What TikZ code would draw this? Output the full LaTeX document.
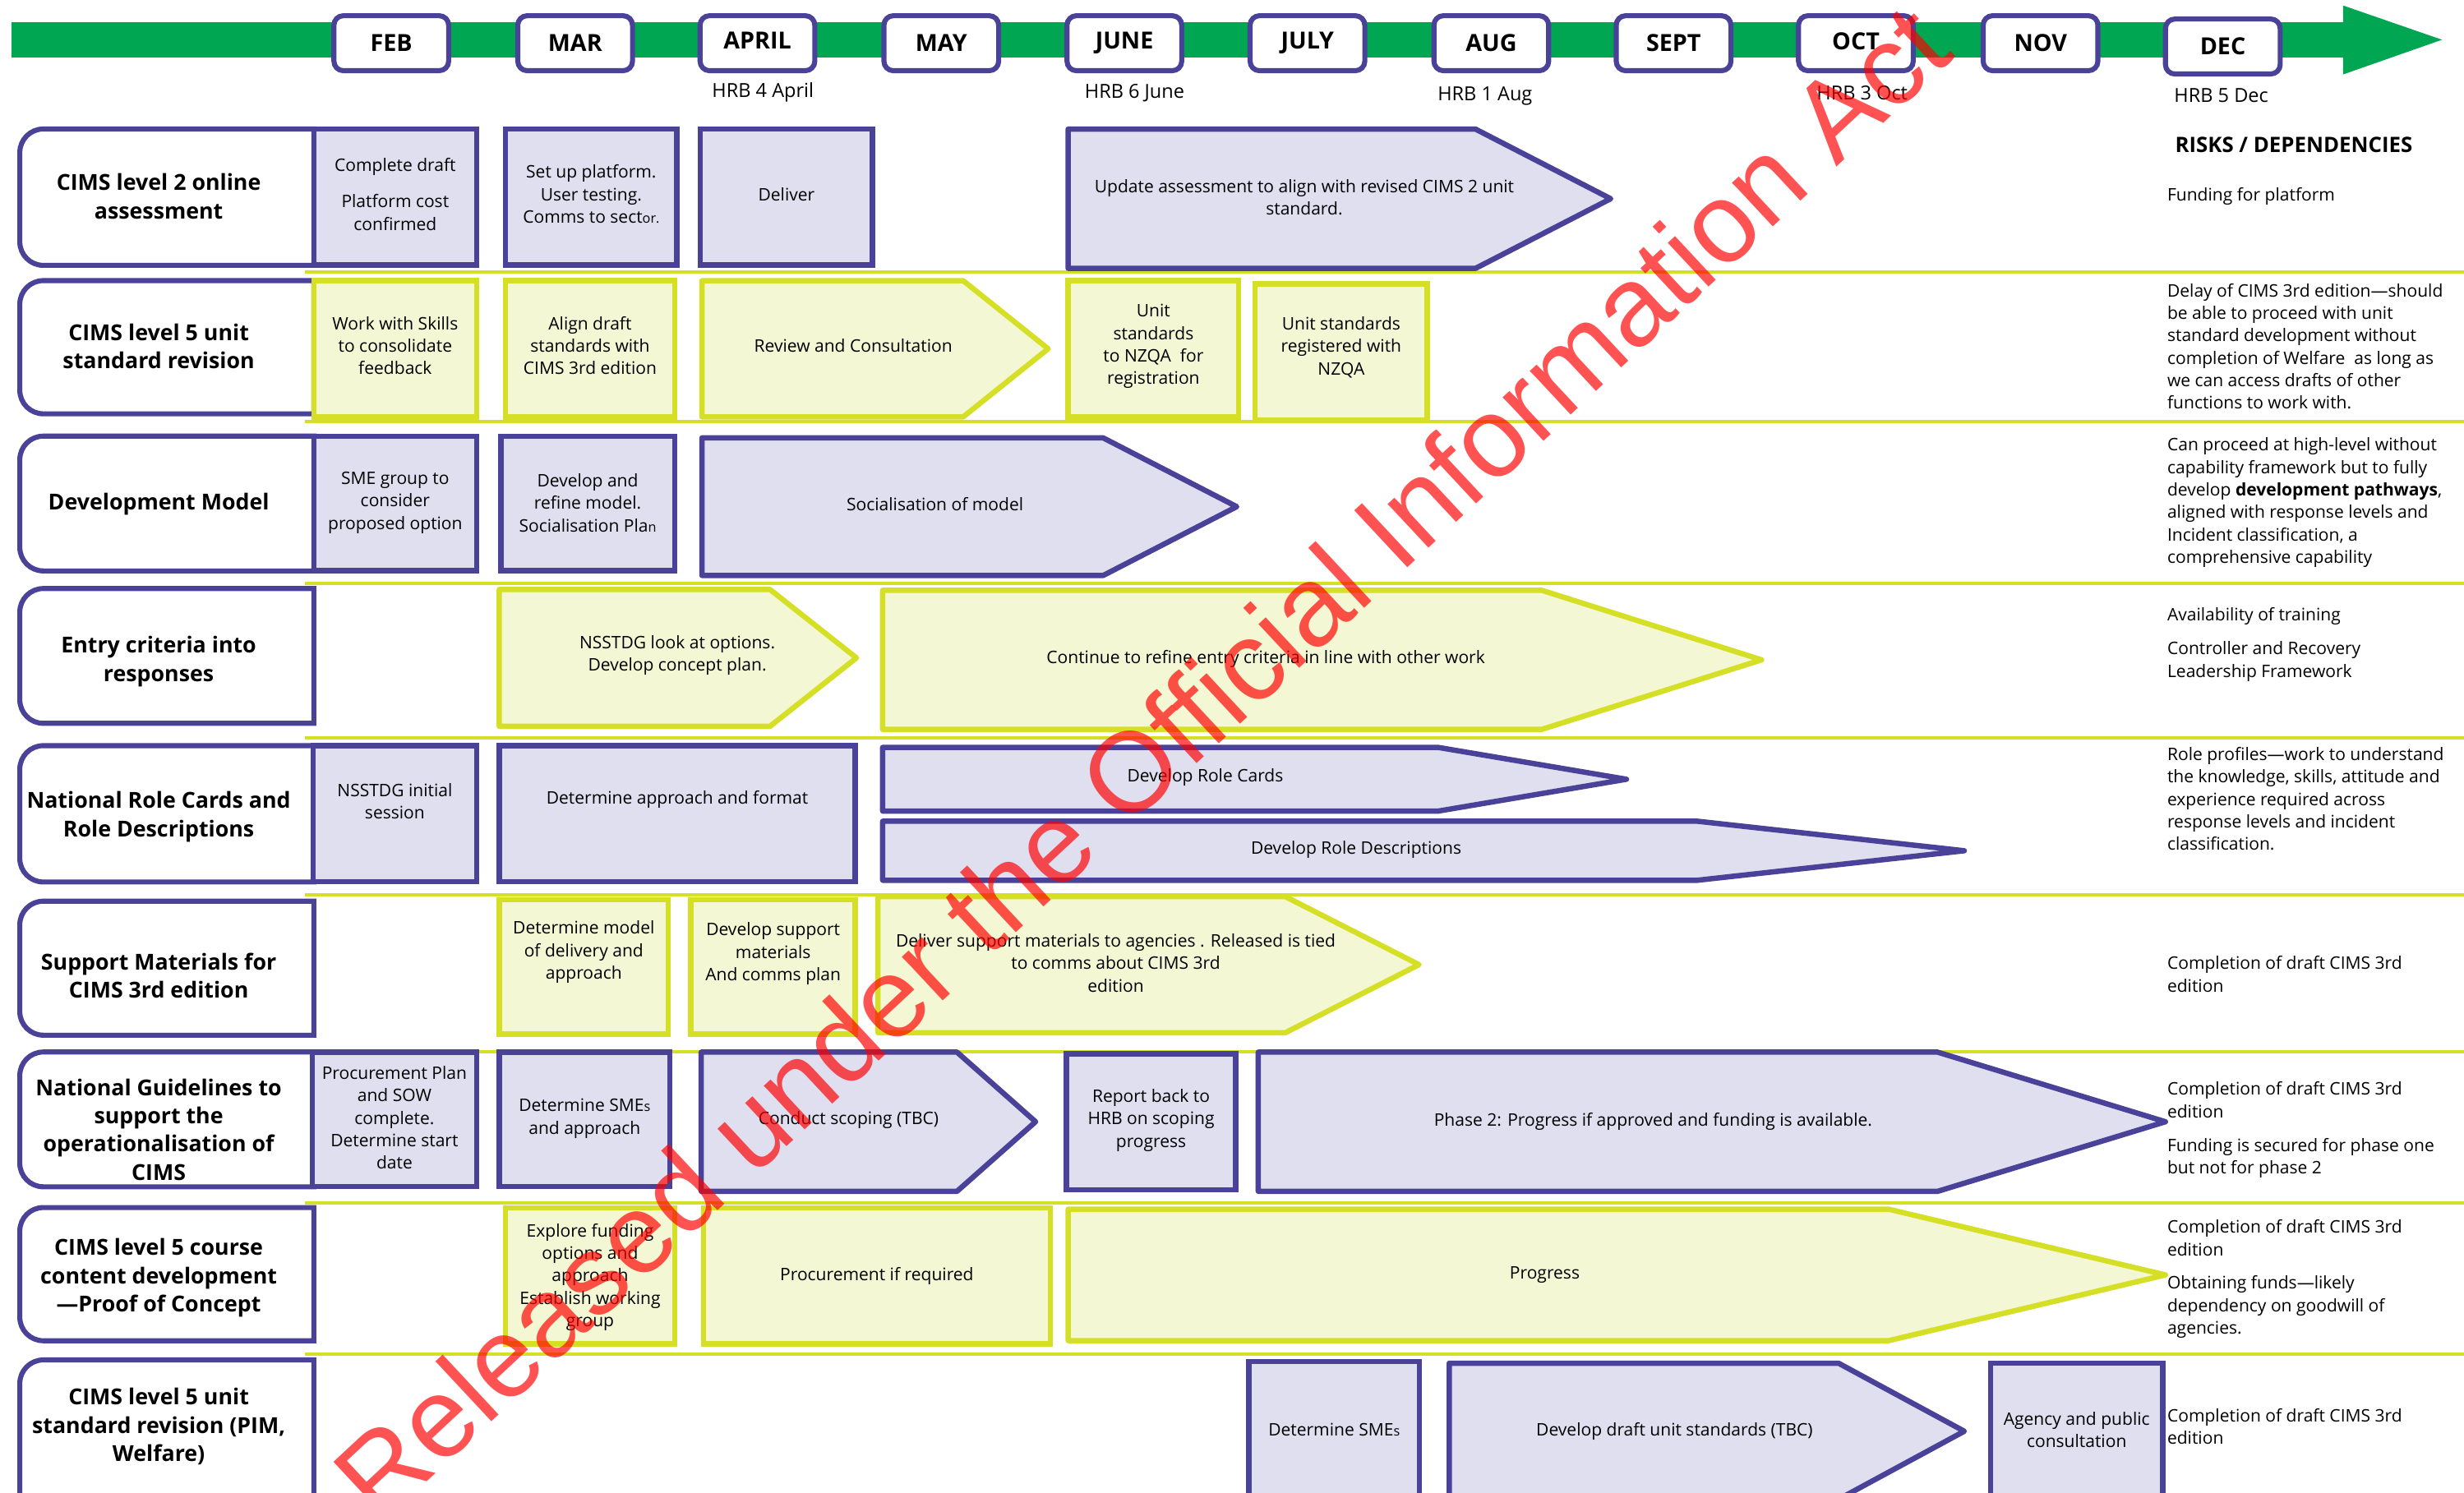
\documentclass[tikz,border=0pt]{standalone}
\usepackage{fontspec}
\setmainfont{Open Sans}
\newfontfamily\stampfont{Liberation Sans}

\definecolor{pborder}{HTML}{4A4298}
\definecolor{pfill}{HTML}{DFDFF0}
\definecolor{yborder}{HTML}{D5DF26}
\definecolor{yfill}{HTML}{F4F7D3}
\definecolor{tlgreen}{HTML}{00A651}

% rectangular task: style, name, x1, y1, x2, y2, text y, text
\newcommand\TaskBox[8]{%
  \draw[#1] ({#3+1.7},{#4+1.7}) rectangle ({#5-1.7},{#6-1.7});
  \node[txt] (#2) at ({(#3+#5)/2},#7) {#8};}

% pointed task: style, name, x left, x body end, x tip, y top, y bottom, text position, text
\newcommand\TaskArrow[9]{%
  \draw[#1, line join=round] ({#3+1.7},{#6+1.7}) -- (#4,{#6+1.7}) -- ({#5-2},{(#6+#7)/2})
     -- (#4,{#7-1.7}) -- ({#3+1.7},{#7-1.7}) -- cycle;
  \node[txt] (#2) at (#8) {#9};}

% row heading with rounded left corners: name, y top, y bottom, text y, text
\newcommand\RowLabel[5]{%
  \draw[lblbox] (199.7,{#2+1.6}) -- (27.6,{#2+1.6})
     .. controls (19.3,{#2+1.6}) and (12.6,{#2+8.3}) .. (12.6,{#2+16.6})
     -- (12.6,{#3-16.6})
     .. controls (12.6,{#3-8.3}) and (19.3,{#3-1.6}) .. (27.6,{#3-1.6})
     -- (199.7,{#3-1.6}) -- cycle;
  \node[lbltxt] (#1) at (101,#4) {#5};}

\newcommand\smallch[1]{{\fontsize{8.5}{10}\selectfont #1}}

\begin{document}
\begin{tikzpicture}[x=1pt,y=-1pt,
  txt/.style={font=\fontsize{11}{14.3}\selectfont, align=center, inner sep=0pt, text=black},
  risk/.style={font=\fontsize{11}{14.3}\selectfont, align=left, anchor=west, inner sep=0pt, text=black},
  lbltxt/.style={font=\bfseries\fontsize{14}{18}\selectfont, align=center, inner sep=0pt},
  lblbox/.style={draw=pborder, fill=white, line width=3.2pt, line join=miter},
  pbox/.style={draw=pborder, fill=pfill, line width=3.4pt},
  ybox/.style={draw=yborder, fill=yfill, line width=3.4pt},
  sep/.style={draw=yborder, line width=2pt},
  month/.style={draw=pborder, fill=white, line width=3.2pt, rounded corners=6pt,
     minimum width=73pt, minimum height=35pt, inner sep=0pt,
     font=\bfseries\fontsize{15}{18}\selectfont},
  hrb/.style={font=\fontsize{12.3}{15}\selectfont, inner sep=0pt},
  stamp/.style={font=\stampfont\fontsize{72}{80}\selectfont, text=red, text opacity=0.68, inner sep=0pt}
]
\useasboundingbox (0,0) rectangle (1568,950);
\clip (0,0) rectangle (1568,950);
\fill[white] (0,0) rectangle (1568,950);

% ---------- timeline ----------
\fill[tlgreen] (7.5,14) rectangle (1492,36.6);
\fill[tlgreen] (1491,3.5) -- (1554,25.3) -- (1491,47.4) -- cycle;

\node[month] (feb)  at (249,27.5)  {FEB};
\node[month] (mar)  at (366,27.5)  {MAR};
\node[month] (apr)  at (482,27.5)  {\raisebox{3pt}{APRIL}};
\node[month] (may)  at (599,27.5)  {MAY};
\node[month] (jun)  at (715.5,27.5){\raisebox{3pt}{JUNE}};
\node[month] (jul)  at (832,27.5)  {JULY};
\node[month] (aug)  at (949,27.5)  {AUG};
\node[month] (sep)  at (1065,27.5) {SEPT};
\node[month] (oct)  at (1181,27.5) {\raisebox{3pt}{OCT}};
\node[month] (nov)  at (1298.5,27.5){NOV};
\node[month] (dec)  at (1414.5,29.6){DEC};

\node[hrb] (hrbapr) at (485.5,59) {HRB 4 April};
\node[hrb] (hrbjun) at (722,59)   {HRB 6 June};
\node[hrb] (hrbaug) at (945,61)   {HRB 1 Aug};
\node[hrb] (hrboct) at (1185,59)  {HRB 3 Oct};
\node[hrb] (hrbdec) at (1413.5,61){HRB 5 Dec};

\node[font=\bfseries\fontsize{13.5}{16}\selectfont, anchor=west, inner sep=0pt] (riskhead) at (1384,92.4) {RISKS / DEPENDENCIES};

% ---------- row separators ----------
\foreach \yy in {173,268.5,371.5,469.5,569.5,669.5,765.5,862}
  \draw[sep] (194,\yy) -- (1568,\yy);

% ---------- row 1 ----------
\RowLabel{l1}{80.5}{170.5}{125}{CIMS level 2 online\\assessment}
\TaskBox{pbox}{t1a}{198}{80.5}{305}{170.5}{123.5}{Complete draft\\[9pt]Platform cost\\confirmed}
\TaskBox{pbox}{t1b}{320}{80.5}{432.5}{170.5}{123.5}{Set up platform.\\User testing.\\Comms to sect\smallch{or.}}
\TaskBox{pbox}{t1c}{444}{80.5}{557}{170.5}{124}{Deliver}
\TaskArrow{pbox}{t1d}{678}{939}{1027}{80.5}{172.5}{830,125.5}{Update assessment to align with revised CIMS 2 unit\\standard.}

% ---------- row 2 ----------
\RowLabel{l2}{177}{265}{220.5}{CIMS level 5 unit\\standard revision}
\TaskBox{ybox}{t2a}{198}{177}{305}{267}{220}{Work with Skills\\to consolidate\\feedback}
\TaskBox{ybox}{t2b}{320}{177}{431}{267}{220}{Align draft\\standards with\\CIMS 3rd edition}
\TaskArrow{ybox}{t2c}{445}{613}{669}{177}{267}{543,220}{Review and Consultation}
\TaskBox{ybox}{t2d}{678}{177}{790}{267}{220.5}{Unit\\standards\\to NZQA\ \ for\\registration}
\TaskBox{ybox}{t2e}{797}{179}{910}{269}{221}{Unit standards\\registered with\\NZQA}

% ---------- row 3 ----------
\RowLabel{l3}{276}{365}{321}{Development Model}
\TaskBox{pbox}{t3a}{198}{276}{305}{365}{320}{SME group to\\consider\\proposed option}
\TaskBox{pbox}{t3b}{317}{276}{431}{365}{320}{Develop and\\refine model.\\Socialisation Pla\smallch{n}}
\TaskArrow{pbox}{t3c}{445}{702}{789}{277}{368}{595,321}{Socialisation of model}

% ---------- row 4 ----------
\RowLabel{l4}{373}{462}{421}{Entry criteria into\\responses}
\TaskArrow{ybox}{t4a}{316}{490}{547}{373.5}{464}{431,417}{NSSTDG look at options.\\Develop concept plan.}
\TaskArrow{ybox}{t4b}{560}{981}{1123}{374}{466}{805.5,419.5}{Continue to refine entry criteria in line with other work}

% ---------- row 5 ----------
\RowLabel{l5}{473}{563}{520}{National Role Cards and\\Role Descriptions}
\TaskBox{pbox}{t5a}{197.5}{473}{305}{563}{510}{NSSTDG initial\\session}
\TaskBox{pbox}{t5b}{316}{473}{546}{563}{509}{Determine approach and format}
\TaskArrow{pbox}{t5c}{560}{915}{1037}{474}{518}{767,495}{Develop Role Cards}
\TaskArrow{pbox}{t5d}{560}{1080}{1252}{521}{562}{863,541}{Develop Role Descriptions}

% ---------- row 6 ----------
\RowLabel{l6}{572}{660.5}{621}{Support Materials for\\CIMS 3rd edition}
\TaskBox{ybox}{t6a}{316}{571}{427}{660}{606}{Determine model\\of delivery and\\approach}
\TaskBox{ybox}{t6b}{438}{571}{546}{660}{607}{Develop support\\materials\\And comms plan}
\TaskArrow{ybox}{t6c}{557}{818}{905}{569}{659}{710,613}{Deliver support materials to agencies . Released is tied\\to comms about CIMS 3rd\\edition}

% ---------- row 7 ----------
\RowLabel{l7}{668}{757}{719}{National Guidelines to\\support the\\operationalisation of\\CIMS}
\TaskBox{pbox}{t7a}{197}{668}{305}{757}{711.5}{Procurement Plan\\and SOW\\complete.\\Determine start\\date}
\TaskBox{pbox}{t7b}{316}{668}{428}{757}{712}{Determine SME\smallch{s}\\and approach}
\TaskArrow{pbox}{t7c}{444.5}{609}{661}{668}{760}{540,713}{Conduct scoping (TBC)}
\TaskBox{pbox}{t7d}{677}{669}{788}{759}{713}{Report back to\\HRB on scoping\\progress}
\TaskArrow{pbox}{t7e}{799}{1233}{1380}{668}{760}{1052,713.7}{Phase 2: Progress if approved and funding is available.}

% ---------- row 8 ----------
\RowLabel{l8}{767}{855}{813.5}{CIMS level 5 course\\content development\\---Proof of Concept}
\TaskBox{ybox}{t8a}{320}{767}{431}{857}{813}{Explore funding\\options and\\approach\\Establish working\\group}
\TaskBox{ybox}{t8b}{446}{767}{670}{857}{812}{Procurement if required}
\TaskArrow{ybox}{t8c}{678}{1202}{1380}{768}{855}{983,811.5}{Progress}

% ---------- row 9 ----------
\RowLabel{l9}{864}{990}{908}{CIMS level 5 unit\\standard revision (PIM,\\Welfare)}
\TaskBox{pbox}{t9a}{793}{865}{905}{970}{910}{Determine SME\smallch{s}}
\TaskArrow{pbox}{t9b}{920.5}{1170}{1252}{866}{956}{1065.6,911}{Develop draft unit standards (TBC)}
\TaskBox{pbox}{t9c}{1265}{866}{1378}{970}{910}{Agency and public\\consultation}

% ---------- risks / dependencies ----------
\node[risk] (r1)  at (1379,125)   {Funding for platform};
\node[risk] (r2)  at (1379,220.5) {Delay of CIMS 3rd edition---should\\be able to proceed with unit\\standard development without\\completion of Welfare\ \ as long as\\we can access drafts of other\\functions to work with.};
\node[risk] (r3)  at (1379,320)   {Can proceed at high-level without\\capability framework but to fully\\develop \textbf{development pathways},\\aligned with response levels and\\Incident classification, a\\comprehensive capability};
\node[risk] (r4a) at (1379,392.3) {Availability of training};
\node[risk] (r4b) at (1379,421)   {Controller and Recovery\\Leadership Framework};
\node[risk] (r5)  at (1379,508.5) {Role profiles---work to understand\\the knowledge, skills, attitude and\\experience required across\\response levels and incident\\classification.};
\node[risk] (r6)  at (1379,620)   {Completion of draft CIMS 3rd\\edition};
\node[risk] (r7a) at (1379,700)   {Completion of draft CIMS 3rd\\edition};
\node[risk] (r7b) at (1379,737)   {Funding is secured for phase one\\but not for phase 2};
\node[risk] (r8a) at (1379,788)   {Completion of draft CIMS 3rd\\edition};
\node[risk] (r8b) at (1379,832)   {Obtaining funds---likely\\dependency on goodwill of\\agencies.};
\node[risk] (r9)  at (1379,908)   {Completion of draft CIMS 3rd\\edition};

% ---------- release stamp ----------
\node[stamp, rotate=43, anchor=base west] (releasestamp) at (242,971) {Released under the Official Information Act};

\end{tikzpicture}
\end{document}
